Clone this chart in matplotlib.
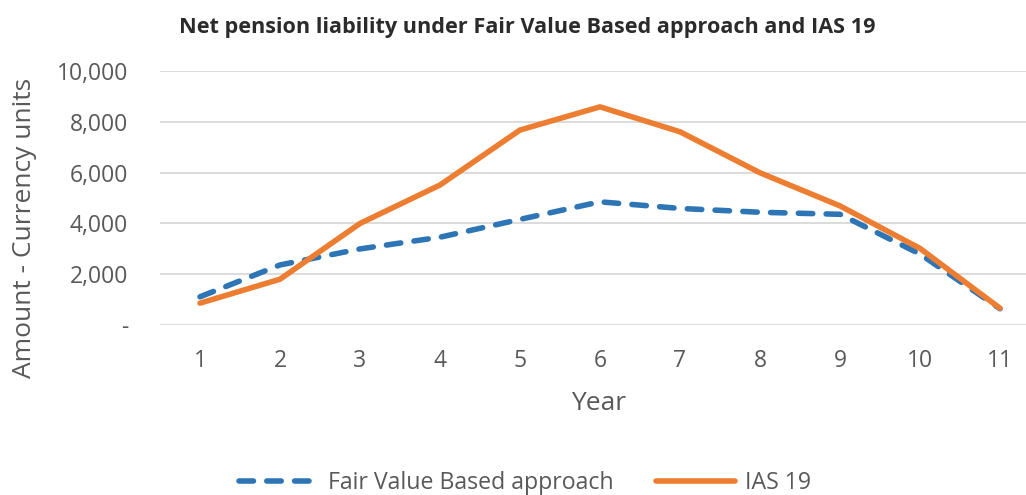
import matplotlib
matplotlib.use("Agg")
import matplotlib.pyplot as plt
from matplotlib.ticker import FixedLocator, FuncFormatter

years = [1, 2, 3, 4, 5, 6, 7, 8, 9, 10, 11]
fair_value = [1120, 2370, 3000, 3460, 4160, 4850, 4590, 4440, 4360, 2800, 650]
ias19 = [870, 1810, 4000, 5510, 7670, 8580, 7600, 5990, 4690, 3020, 670]
yticks = [0, 2000, 4000, 6000, 8000, 10000]
title = "Net pension liability under Fair Value Based approach and IAS 19"
series_names = ["Fair Value Based approach", "IAS 19"]

W, H = 1026, 495
fig = plt.figure(figsize=(W / 100, H / 100), dpi=100)
ax = fig.add_axes([160 / W, (H - 325.3) / H, 880 / W, 254.6 / H])

blue = "#2E75B6"
orange = "#ED7D31"
gray = "#595959"

ax.plot(years, fair_value, color=blue, lw=4.0, ls=(0, (2.6, 2.4)),
        dash_capstyle="round", solid_capstyle="round", label=series_names[0], zorder=3)
ax.plot(years, ias19, color=orange, lw=4.0, solid_capstyle="round",
        solid_joinstyle="round", label=series_names[1], zorder=4)

ax.set_xlim(0.5, 11.5)
ax.set_ylim(0, 10000)
ax.yaxis.set_major_locator(FixedLocator(yticks))
ax.yaxis.set_major_formatter(FuncFormatter(lambda v, p: "-" if v == 0 else f"{int(v):,}"))
ax.set_xticks(years)
ax.grid(axis="y", color="#D9D9D9", lw=1.3)
ax.set_axisbelow(True)
for s in ax.spines.values():
    s.set_visible(False)
ax.tick_params(length=0, labelsize=16.5, labelcolor=gray, pad=0)
ax.tick_params(axis="y", pad=23)
ax.tick_params(axis="x", pad=17)
for lab in ax.get_xticklabels() + ax.get_yticklabels():
    lab.set_fontfamily("Open Sans")

fig.text(527 / W, 1 - 27 / H, title, ha="center", va="center",
         fontsize=15.6, fontweight="bold", color="#2B2B2B", family="Open Sans")
fig.text(599 / W, 1 - 403 / H, "Year", ha="center", va="center",
         fontsize=19, color=gray, family="Open Sans")
fig.text(25 / W, 1 - 228 / H, "Amount - Currency units", ha="center", va="center",
         rotation=90, fontsize=19, color=gray, family="Open Sans")

leg = fig.legend(loc="center", bbox_to_anchor=(525 / W, 1 - 483 / H), ncol=2,
                 frameon=False, handlelength=3.4, handletextpad=0.43,
                 columnspacing=1.85, prop={"family": "Open Sans", "size": 16.7})
for t in leg.get_texts():
    t.set_color(gray)

fig.savefig("out.png", dpi=100, facecolor="white")
